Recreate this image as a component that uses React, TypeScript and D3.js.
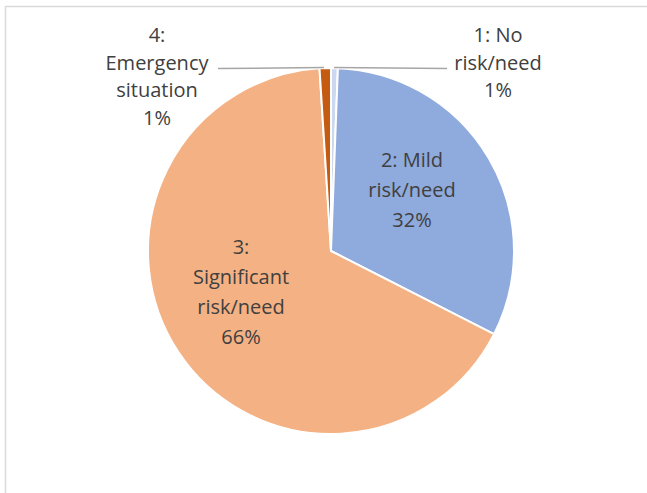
import React from "react";
import * as d3 from "d3";

const categories = ["1: No risk/need", "2: Mild risk/need", "3: Significant risk/need", "4: Emergency situation"];
const values = [0.6, 31.9, 66.5, 1.0];
const percentLabels = ["1%", "32%", "66%", "1%"];
const colors = ["#CBD8EF", "#8FAADC", "#F4B183", "#C55A11"];
const labelLines = [
  ["1: No", "risk/need", "1%"],
  ["2: Mild", "risk/need", "32%"],
  ["3:", "Significant", "risk/need", "66%"],
  ["4:", "Emergency", "situation", "1%"],
];

const W = 647;
const H = 493;
const cx = 331;
const cy = 251;
const R = 183;

export default function App() {
  const pie = d3.pie<number>().sort(null).value((d) => d).startAngle(0).endAngle(2 * Math.PI);
  const arcs = pie(values);
  const arc = d3.arc<d3.PieArcDatum<number>>().innerRadius(0).outerRadius(R);

  // label anchors (centre x, first baseline y, line height)
  const labelPos: [number, number, number][] = [
    [498, 42, 27.5],
    [412, 167, 30],
    [241, 254, 30],
    [157, 42, 27.5],
  ];

  return (
    <svg
      width={W}
      height={H}
      style={{ position: "absolute", left: 0, top: 0, background: "#fff" }}
      fontFamily="'Open Sans', sans-serif"
    >
      <rect x={5.5} y={6.5} width={W + 20} height={H + 20} fill="#fff" stroke="#D9D9D9" strokeWidth={1.5} />
      <g transform={`translate(${cx},${cy})`}>
        {arcs.map((a, i) => (
          <path key={categories[i]} d={arc(a) || ""} fill={colors[i]} stroke="#fff" strokeWidth={2} />
        ))}
      </g>
      <line x1={218} y1={68.5} x2={324} y2={67.5} stroke="#A6A6A6" strokeWidth={1.5} />
      <line x1={334} y1={67.5} x2={447} y2={68.5} stroke="#A6A6A6" strokeWidth={1.5} />
      {labelLines.map((lines, i) => (
        <text
          key={categories[i]}
          x={labelPos[i][0]}
          y={labelPos[i][1]}
          textAnchor="middle"
          fontSize={20}
          fill="#404040"
        >
          {lines.map((t, j) => (
            <tspan key={j} x={labelPos[i][0]} y={labelPos[i][1] + j * labelPos[i][2]}>
              {t}
            </tspan>
          ))}
        </text>
      ))}
      <title>{percentLabels.join(" ")}</title>
    </svg>
  );
}
